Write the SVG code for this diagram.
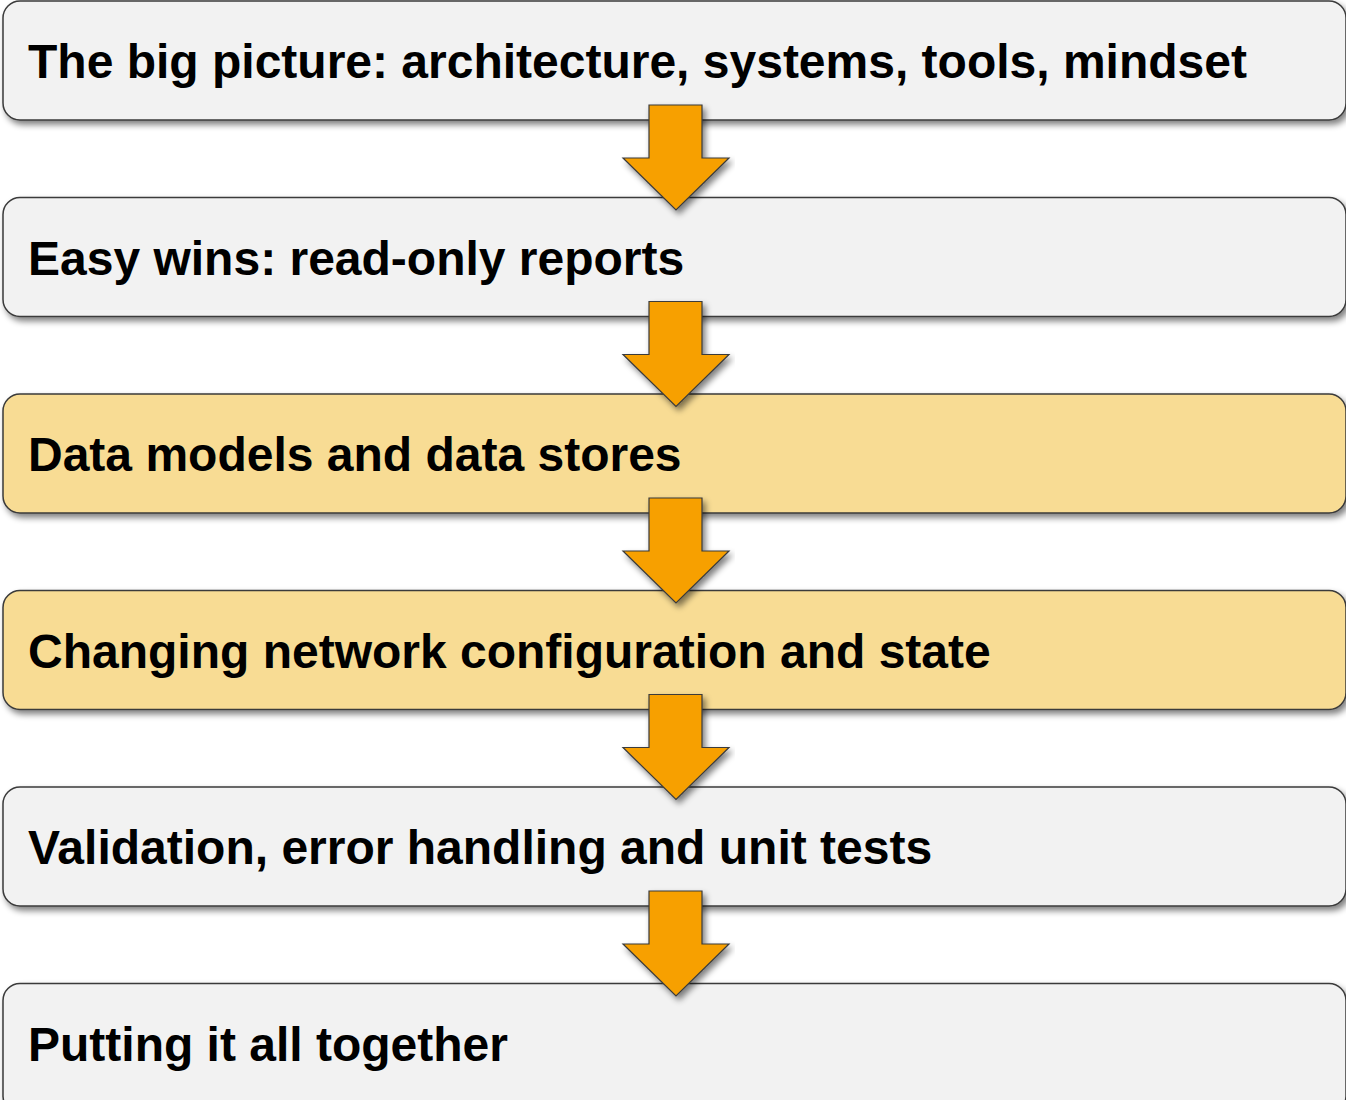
<svg xmlns="http://www.w3.org/2000/svg" width="1346" height="1100" viewBox="0 0 1346 1100">
<defs>
<filter id="sh" x="-5%" y="-20%" width="110%" height="150%">
<feGaussianBlur in="SourceAlpha" stdDeviation="3"/>
<feOffset dx="3" dy="4" result="b"/>
<feComponentTransfer><feFuncA type="linear" slope="0.5"/></feComponentTransfer>
<feMerge><feMergeNode/><feMergeNode in="SourceGraphic"/></feMerge>
</filter>
<path id="arr" d="M649,0 H702 V53 H729 L676,105 L623,53 H649 Z"/>
</defs>
<style>
.box{fill:#f2f2f2;stroke:#3a3a3a;stroke-width:1.5}
.hl{fill:#f8dc94}
.t{font-family:"Liberation Sans",Arial,sans-serif;font-weight:bold;font-size:48px;fill:#000}
.a{fill:#f7a000;stroke:#3a3a3a;stroke-width:1.2}
</style>
<g id="n1"><rect class="box" x="3" y="1" width="1343" height="119" rx="17" filter="url(#sh)"/><text class="t" x="28" y="78">The big picture: architecture, systems, tools, mindset</text></g>
<g id="n2"><rect class="box" x="3" y="197.5" width="1343" height="119" rx="17" filter="url(#sh)"/><text class="t" x="28" y="274.5">Easy wins: read-only reports</text></g>
<g id="n3"><rect class="box hl" x="3" y="394" width="1343" height="119" rx="17" filter="url(#sh)"/><text class="t" x="28" y="471">Data models and data stores</text></g>
<g id="n4"><rect class="box hl" x="3" y="590.5" width="1343" height="119" rx="17" filter="url(#sh)"/><text class="t" x="28" y="667.5">Changing network configuration and state</text></g>
<g id="n5"><rect class="box" x="3" y="787" width="1343" height="119" rx="17" filter="url(#sh)"/><text class="t" x="28" y="864">Validation, error handling and unit tests</text></g>
<g id="n6"><rect class="box" x="3" y="983.5" width="1343" height="130" rx="17" filter="url(#sh)"/><text class="t" x="28" y="1060.5">Putting it all together</text></g>
<g id="connectors">
<use href="#arr" class="a" y="105" filter="url(#sh)"/>
<use href="#arr" class="a" y="301.5" filter="url(#sh)"/>
<use href="#arr" class="a" y="498" filter="url(#sh)"/>
<use href="#arr" class="a" y="694.5" filter="url(#sh)"/>
<use href="#arr" class="a" y="891" filter="url(#sh)"/>
</g>
</svg>
